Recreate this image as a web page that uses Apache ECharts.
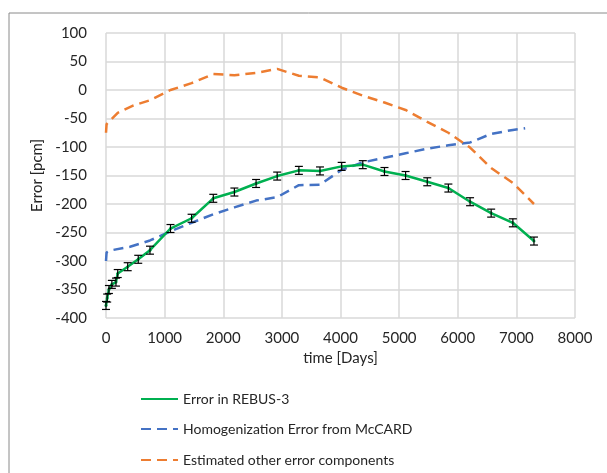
<!DOCTYPE html>
<html>
<head>
<meta charset="utf-8">
<script src="https://cdn.jsdelivr.net/npm/echarts@6/dist/echarts.min.js"></script>
<style>
  html, body { margin: 0; padding: 0; background: #fff; }
  #chart { width: 607px; height: 473px; }
</style>
</head>
<body>
<div id="chart"></div>
<script>
// time [Days] and error [pcm]
var rebusDays = [0, 20, 50, 100, 170, 200, 370, 550, 750, 1100, 1460, 1830, 2190, 2560, 2920, 3290, 3650, 4020, 4380, 4750, 5110, 5480, 5840, 6210, 6570, 6940, 7300];
var rebusErr = [-378, -365, -350, -341, -337, -322, -310, -297, -281, -243, -225, -190, -179, -164, -151, -141, -142, -134, -131, -143, -150, -161, -172, -196, -216, -233, -265];
var rebusBar = [7, 7, 7, 7, 7, 7, 7, 7, 7, 7, 7, 7, 7, 7, 7, 7, 7, 7, 7, 7, 7, 7, 7, 7, 7, 7, 7];

var homDays = [0, 10, 100, 410, 750, 1100, 1460, 1830, 2190, 2560, 2920, 3290, 3650, 4020, 4380, 4750, 5110, 5480, 5840, 6210, 6570, 6940, 7150];
var homErr = [-300, -285, -281, -275, -264, -248, -233, -218, -206, -194, -188, -167, -166, -140, -127, -119, -111, -103, -97, -92, -77, -70, -67];

var othDays = [0, 10, 200, 470, 750, 1100, 1460, 1830, 2190, 2560, 2920, 3290, 3650, 4020, 4380, 4750, 5110, 5480, 5840, 6210, 6570, 6940, 7300];
var othErr = [-75, -60, -40, -27, -18, 0, 12, 28, 26, 30, 37, 25, 22, 4, -10, -22, -35, -56, -75, -101, -137, -163, -200];

var names = ['Error in REBUS-3', 'Homogenization Error from McCARD', 'Estimated other error components'];

function pairs(xs, ys) {
  return xs.map(function (x, i) { return [x, ys[i]]; });
}

var font = 'Lato';
var txt = '#262626';

function legendFor(name, top) {
  return {
    orient: 'vertical',
    left: 140,
    top: top,
    padding: 0,
    itemWidth: 37,
    itemHeight: 12,
    itemGap: 0,
    itemStyle: { opacity: 0 },
    textStyle: { fontFamily: font, fontSize: 14, color: txt },
    data: [name]
  };
}

var chart = echarts.init(document.getElementById('chart'));
chart.setOption({
  animation: false,
  textStyle: { fontFamily: font },
  graphic: [{
    type: 'rect',
    shape: { x: 9, y: 13, width: 640, height: 500 },
    style: { fill: 'none', stroke: '#8a8a8a', lineWidth: 1 },
    silent: true
  }],
  grid: { left: 106, right: 32, top: 33, bottom: 155 },
  legend: [
    legendFor(names[0], 392),
    legendFor(names[1], 422),
    legendFor(names[2], 453)
  ],
  xAxis: {
    type: 'value',
    min: 0, max: 8000, interval: 1000,
    name: 'time [Days]',
    nameLocation: 'middle',
    nameGap: 33,
    nameTextStyle: { fontFamily: font, fontSize: 15, color: txt },
    axisLine: { show: false },
    axisTick: { show: false },
    axisLabel: { fontFamily: font, fontSize: 15, color: txt, margin: 13, formatter: function (v) { return String(v); } },
    splitLine: { lineStyle: { color: '#d9d9d9', width: 1.5 } }
  },
  yAxis: {
    type: 'value',
    min: -400, max: 100, interval: 50,
    name: 'Error [pcm]',
    nameLocation: 'middle',
    nameGap: 60,
    nameTextStyle: { fontFamily: font, fontSize: 15, color: txt },
    axisLine: { show: false },
    axisTick: { show: false },
    axisLabel: { fontFamily: font, fontSize: 15, color: txt, margin: 19 },
    splitLine: { lineStyle: { color: '#d9d9d9', width: 1.5 } }
  },
  series: [
    {
      name: names[1],
      type: 'line',
      data: pairs(homDays, homErr),
      symbol: 'none',
      lineStyle: { color: '#4472c4', width: 2.5, type: [10, 6] },
      itemStyle: { color: '#4472c4' },
      z: 2
    },
    {
      name: names[2],
      type: 'line',
      data: pairs(othDays, othErr),
      symbol: 'none',
      lineStyle: { color: '#ed7d31', width: 2.5, type: [10, 6] },
      itemStyle: { color: '#ed7d31' },
      z: 2
    },
    {
      name: names[0],
      type: 'line',
      data: pairs(rebusDays, rebusErr),
      symbol: 'circle',
      symbolSize: 3,
      showSymbol: true,
      lineStyle: { color: '#00b050', width: 2.5 },
      itemStyle: { color: '#00b050' },
      z: 3
    },
    {
      type: 'custom',
      name: 'bars',
      data: rebusDays.map(function (d, i) { return [d, rebusErr[i] - rebusBar[i], rebusErr[i] + rebusBar[i]]; }),
      renderItem: function (params, api) {
        var lo = api.coord([api.value(0), api.value(1)]);
        var hi = api.coord([api.value(0), api.value(2)]);
        var w = 4;
        var st = { stroke: '#000', lineWidth: 1.2 };
        return {
          type: 'group',
          children: [
            { type: 'line', shape: { x1: lo[0], y1: lo[1], x2: hi[0], y2: hi[1] }, style: st },
            { type: 'line', shape: { x1: lo[0] - w, y1: lo[1], x2: lo[0] + w, y2: lo[1] }, style: st },
            { type: 'line', shape: { x1: hi[0] - w, y1: hi[1], x2: hi[0] + w, y2: hi[1] }, style: st }
          ]
        };
      },
      z: 4,
      silent: true
    }
  ]
});
</script>
</body>
</html>
